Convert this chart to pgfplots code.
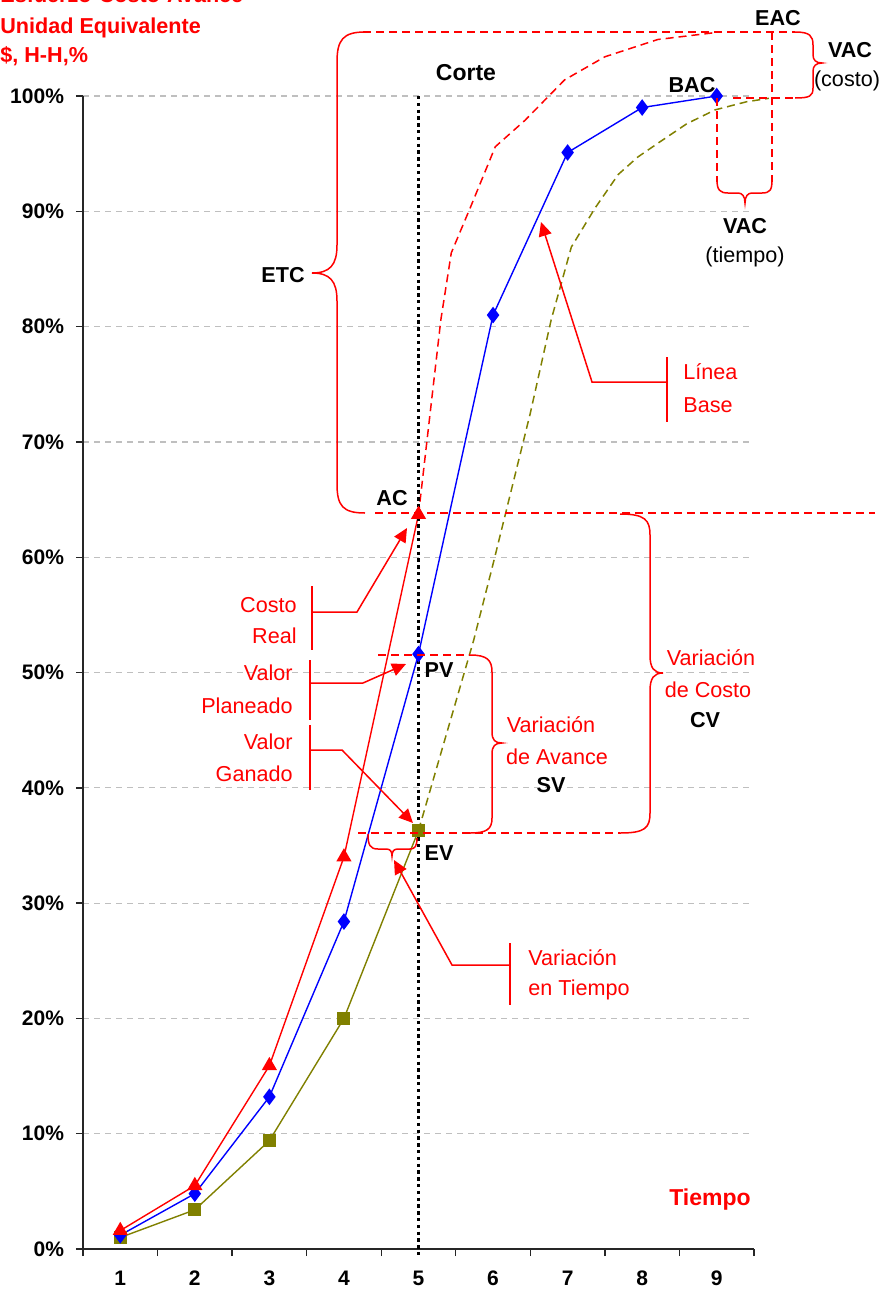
\documentclass[border=0pt]{standalone}
\usepackage{fontspec}
\setmainfont{Liberation Sans}
\usepackage{pgfplots}
\pgfplotsset{compat=1.18}
\usetikzlibrary{arrows.meta}
\definecolor{evolive}{HTML}{808000}
\definecolor{gridgray}{HTML}{BFBFBF}
\newcommand\ann{\fontsize{10.8}{13}\selectfont}
\newcommand\bann{\bfseries\fontsize{10.8}{13}\selectfont}
\begin{document}
\begin{tikzpicture}
\useasboundingbox (0pt,0pt) rectangle (441.5pt,-645pt);
\clip (0pt,0pt) rectangle (441.5pt,-645pt);
\begin{axis}[
  at={(41.5pt,-624.5pt)}, anchor=south west,
  scale only axis, width=335.5pt, height=576.5pt,
  xmin=0.5, xmax=9.5, ymin=0, ymax=100,
  enlargelimits=false, clip=false,
  axis x line=bottom, axis y line=left,
  axis line style={-, line width=0.8pt, black!85},
  xtick={0.5,1.5,...,9.5},
  xticklabels={1,2,3,4,5,6,7,8,9,{}},
  xticklabel style={xshift=18.64pt, yshift=-4pt},
  ytick={0,10,...,100},
  yticklabels={0\%,10\%,20\%,30\%,40\%,50\%,60\%,70\%,80\%,90\%,100\%},
  yticklabel style={xshift=-2.5pt},
  tick align=outside, major tick length=3.5pt,
  tick style={black!85, line width=0.7pt},
  tick label style={font=\bfseries\fontsize{10.5}{12}\selectfont},
  ymajorgrids, grid style={gridgray, dash pattern=on 3pt off 2.5pt, line width=0.6pt},
]
% forecasts (dashed)
\addplot[red, line width=0.75pt, dash pattern=on 4pt off 2.5pt] coordinates {
 (5,63.7) (5.30,80.6) (5.44,86.4) (5.70,90.4) (6.03,95.6) (6.43,97.9) (6.96,101.4) (7.50,103.4) (8.21,104.9) (8.98,105.5)
};
\addplot[evolive, line width=0.75pt, dash pattern=on 4pt off 2.5pt] coordinates {
 (5,36.3) (5.74,52.8) (6,59.4) (6.5,72.5) (6.78,80.6) (7.05,86.9) (7.37,90.3) (7.68,93.2) (7.94,94.7) (8.21,95.9) (8.6,97.6) (8.98,98.8) (9.4,99.5) (9.7,99.8)
};
% EV
\addplot[evolive, line width=0.7pt, mark=square*, mark size=2.9pt, mark options={solid}] coordinates {
 (1,1.0) (2,3.4) (3,9.4) (4,20.0) (5,36.3)
};
% PV
\addplot[blue, line width=0.7pt, mark=diamond*, mark size=3.6pt, mark options={solid}] coordinates {
 (1,1.2) (2,4.8) (3,13.2) (4,28.4) (5,51.6) (6,81.0) (7,95.1) (8,99.0) (9,100)
};
% AC
\addplot[red, line width=0.7pt, mark=triangle*, mark size=3.7pt, mark options={solid}] coordinates {
 (1,1.6) (2,5.5) (3,15.9) (4,34.0) (5,63.7)
};
% Corte
\draw[black, line width=1.7pt, dash pattern=on 1.7pt off 1.7pt] (axis cs:5,100) -- (axis cs:5,-0.7);
\end{axis}

\begin{scope}[x=0.5pt,y=-0.5pt]
\tikzset{rl/.style={red, line width=0.75pt}, rd/.style={red, line width=0.75pt, dash pattern=on 4pt off 2.5pt},
 arr/.style={red, line width=0.75pt, -{Triangle[length=7pt,width=6.5pt]}}}
% title
\node[anchor=base west, inner sep=0, text=red, font=\bfseries\fontsize{10.8}{13}\selectfont] at (0,3) {Esfuerzo-Costo-Avance};
\node[anchor=base west, inner sep=0, text=red, font=\bfseries\fontsize{10.8}{13}\selectfont] at (0,33) {Unidad Equivalente};
\node[anchor=base west, inner sep=0, text=red, font=\bfseries\fontsize{10.8}{13}\selectfont] at (0,62) {\$, H-H,\%};

% dashed guide lines
\draw[rd] (363,32) -- (795,32);
\draw[rd] (733,98) -- (795,98);
\draw[rd] (375,513) -- (875,513);
\draw[rd] (378,655) -- (470,655);
\draw[rd] (358,833) -- (620,833);
\draw[rd] (717,98) -- (717,182);
\draw[rd] (772,32) -- (772,182);

% ETC brace
\draw[rl] (365,32) .. controls (343,32) and (337,40) .. (337,62) -- (337,245)
  .. controls (337,265) and (330,273) .. (312,273) .. controls (330,273) and (337,281) .. (337,301)
  -- (337,484) .. controls (337,506) and (343,513) .. (365,513);
% VAC costo brace
\draw[rl] (795,32) .. controls (810,32) and (813,36) .. (813,45) -- (813,55)
  .. controls (813,60) and (816,63) .. (822,63) .. controls (816,63) and (813,66) .. (813,71)
  -- (813,88) .. controls (813,96) and (810,98) .. (795,98);
% VAC tiempo brace
\draw[rl] (717,180) .. controls (717,190) and (720,193) .. (728,193) -- (738,193)
  .. controls (742,193) and (745,196) .. (745,203) .. controls (745,196) and (748,193) .. (752,193)
  -- (762,193) .. controls (770,193) and (772,190) .. (772,180);
% CV brace
\draw[rl] (620,514) .. controls (645,514) and (650,520) .. (650,535) -- (650,655)
  .. controls (650,668) and (654,673) .. (663,673) .. controls (654,673) and (650,678) .. (650,691)
  -- (650,813) .. controls (650,828) and (645,833) .. (620,833);
% SV brace
\draw[rl] (470,655) .. controls (487,655) and (492,660) .. (492,672) -- (492,732)
  .. controls (492,740) and (495,743) .. (502,743) .. controls (495,743) and (492,746) .. (492,754)
  -- (492,818) .. controls (492,829) and (487,833) .. (470,833);
% time variance brace
\draw[rl] (368,834) .. controls (368,845) and (370,849) .. (378,849) -- (386,849)
  .. controls (390,849) and (392,851) .. (392,856) .. controls (392,851) and (394,849) .. (398,849)
  -- (410,849) .. controls (415,849) and (417,846) .. (417,838);

% callouts
\draw[rl] (312,586) -- (312,650);
\draw[arr] (312,612) -- (357,612) -- (407,528);
\draw[rl] (310,660) -- (310,720);
\draw[arr] (310,683) -- (363,683) -- (406,664);
\draw[rl] (310,725) -- (310,790);
\draw[arr] (310,750) -- (342,750) -- (413,823);
\draw[rl] (667,357) -- (667,422);
\draw[arr] (667,382) -- (592,382) -- (541,222);
\draw[rl] (510,943) -- (510,1005);
\draw[arr] (510,965) -- (452,965) -- (394,860);

% red texts
\begin{scope}[every node/.style={text=red, inner sep=0, font=\ann}]
\node[anchor=east] at (297,605) {Costo};
\node[anchor=east] at (297,636) {Real};
\node[anchor=east] at (293,673) {Valor};
\node[anchor=east] at (293,706) {Planeado};
\node[anchor=east] at (293,742) {Valor};
\node[anchor=east] at (293,774) {Ganado};
\node at (551,725) {Variación};
\node at (557,757) {de Avance};
\node at (711,658) {Variación};
\node at (708,690) {de Costo};
\node[anchor=west] at (528,958) {Variación};
\node[anchor=west] at (528,990) {en Tiempo};
\node[anchor=west] at (683,372) {Línea};
\node[anchor=west] at (683,405) {Base};
\end{scope}
\node[text=red, inner sep=0, font=\bfseries\fontsize{11.5}{13}\selectfont] at (710,1200) {Tiempo};

% black labels
\begin{scope}[every node/.style={text=black, inner sep=0, font=\bann}]
\node at (551,785) {SV};
\node at (705,720) {CV};
\node at (283,275) {ETC};
\node at (392,498) {AC};
\node at (439,670) {PV};
\node at (439,853) {EV};
\node[font=\bfseries\fontsize{11.5}{13}\selectfont] at (466,73) {Corte};
\node at (692,85) {BAC};
\node at (778,18) {EAC};
\node at (850,50) {VAC};
\node[font=\ann] at (847,81) {(costo)};
\node at (745,226) {VAC};
\node[font=\ann] at (745,257) {(tiempo)};
\end{scope}
\end{scope}
\end{tikzpicture}
\end{document}
